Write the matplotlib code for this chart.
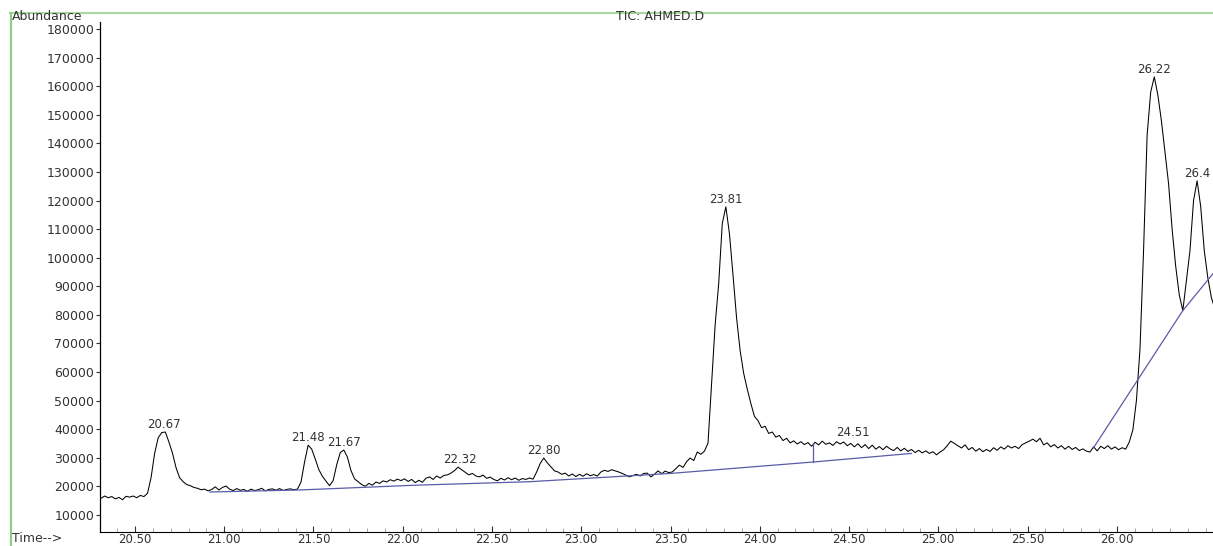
import numpy as np
from matplotlib import pyplot as plt
from matplotlib.lines import Line2D
from matplotlib.ticker import MultipleLocator

# TIC trace, one reading every 0.02 min starting at 20.29 min (abundance in thousands)
scan_start = 20.29
scan_step = 0.02
abundance_k = [
    16.3, 15.8, 16.6, 16.0, 16.4, 15.6, 16.1, 15.3, 16.5, 16.2,
    16.6, 16.0, 16.8, 16.4, 17.5, 23.0, 31.5, 37.0, 38.8, 39.0,
    35.5, 31.6, 26.5, 23.0, 21.6, 20.6, 20.2, 19.6, 19.3, 18.8,
    19.0, 18.4, 18.9, 19.8, 18.7, 19.6, 20.1, 19.0, 18.5, 19.2,
    18.6, 18.9, 18.2, 19.0, 18.5, 18.8, 19.3, 18.4, 18.9, 19.1,
    18.6, 19.2, 18.5, 18.9, 19.1, 18.8, 19.0, 21.5, 28.5, 34.4,
    33.0, 29.5, 25.8, 23.5, 21.8, 20.2, 22.0, 27.5, 31.8, 32.7,
    30.2, 25.5, 22.6, 21.6, 20.6, 20.0, 21.0, 20.4, 21.5, 21.0,
    21.9, 21.5, 22.3, 21.8, 22.5, 22.0, 22.6, 21.7, 22.4, 21.3,
    22.1, 21.4, 22.8, 23.3, 22.4, 23.6, 22.9, 23.8, 24.0, 24.6,
    25.5, 26.7, 25.8, 24.9, 24.0, 24.5, 23.6, 23.3, 23.9, 22.8,
    23.2, 22.4, 21.9, 22.8, 22.2, 23.0, 22.3, 22.9, 22.1, 22.7,
    22.4, 22.9, 22.5, 25.0, 28.0, 29.9, 28.2, 26.8, 25.4, 25.0,
    24.2, 24.6, 23.6, 24.3, 23.4, 24.2, 23.5, 24.4, 23.7, 24.1,
    23.6, 25.0, 25.6, 25.2, 25.8, 25.4, 25.0, 24.5, 23.9, 23.3,
    23.8, 24.2, 23.6, 24.5, 24.6, 23.3, 24.2, 25.4, 24.4, 25.3,
    24.8, 25.0, 26.2, 27.4, 26.6, 28.6, 29.9, 29.0, 32.0, 31.2,
    32.3, 35.1, 56.1, 76.5, 91.0, 112.0, 117.8, 108.5, 94.0, 79.0,
    67.5, 59.5, 54.0, 49.0, 44.5, 43.0, 40.5, 41.0, 38.5, 39.0,
    37.2, 37.8, 36.0, 36.8, 35.2, 35.9, 34.8, 35.6, 34.6, 35.3,
    34.0, 35.4, 34.5, 35.8, 34.7, 35.2, 34.3, 35.6, 34.8, 35.5,
    34.2, 35.0, 33.8, 34.9, 33.5, 34.6, 33.2, 34.4, 33.0, 33.9,
    32.8, 34.0, 33.1, 32.5, 33.6, 32.4, 33.3, 32.2, 32.9, 31.8,
    32.6, 31.7, 32.4, 31.5, 32.1, 31.0, 32.0, 32.8, 34.2, 35.8,
    35.0, 34.2, 33.4, 34.5, 32.8, 33.6, 32.3, 33.2, 32.1, 32.9,
    32.2, 33.5, 32.6, 33.8, 33.0, 34.2, 33.4, 34.0, 33.2, 34.6,
    35.2, 35.8, 36.5, 35.6, 36.8, 34.5, 35.2, 33.8, 34.6, 33.4,
    34.2, 33.0, 34.0, 32.9, 33.6, 32.5, 33.1, 32.3, 32.0, 33.8,
    32.4, 34.0, 33.2, 34.2, 33.0, 33.8, 32.8, 33.5, 33.0, 35.5,
    39.7, 50.0, 68.0, 102.5, 143.0, 158.0, 163.3, 157.0, 147.9, 137.0,
    126.0, 110.0, 97.0, 87.0, 81.5, 92.0, 102.5, 120.0, 126.9, 118.0,
    102.5, 93.0, 86.0, 82.0,
]

# integration baselines (blue)
base1_time = [20.92, 21.42, 22.08, 22.71, 23.50, 24.30, 24.85]
base1_k = [18.0, 18.7, 20.4, 21.6, 24.5, 28.5, 31.5]
base2_time = [25.87, 26.37, 26.54]
base2_k = [33.5, 81.5, 94.5]
split_time = 24.30
split_k = [28.5, 35.0]

# peak labels
peak_labels = ["20.67", "21.48", "21.67", "22.32", "22.80", "23.81", "24.51", "26.22", "26.4"]
peak_times = [20.66, 21.47, 21.67, 22.32, 22.79, 23.81, 24.52, 26.21, 26.45]
peak_k = [39.0, 34.4, 32.7, 26.7, 29.9, 117.8, 36.2, 163.3, 126.9]

y_ticks = np.arange(10000, 180001, 10000)
x_ticks = [20.50, 21.00, 21.50, 22.00, 22.50, 23.00, 23.50, 24.00, 24.50, 25.00, 25.50, 26.00]


def main():
    abundance = np.array(abundance_k) * 1000
    t = np.round(scan_start + scan_step * np.arange(len(abundance)), 2)

    fig = plt.figure(figsize=(12.13, 5.46), dpi=100)
    W, H = 1213, 546
    ax = fig.add_axes([100 / W, 1 - 532 / H, 1 - 100 / W, (532 - 22) / H])

    ax.plot(t, abundance, color='black', lw=0.75)
    ax.plot(base1_time, np.array(base1_k) * 1000, color='#5b5ba8', lw=0.9)
    ax.plot(base2_time, np.array(base2_k) * 1000, color='#5b5ba8', lw=0.9)
    ax.plot([split_time, split_time], np.array(split_k) * 1000, color='#5b5ba8', lw=0.9)

    for lbl, pt, pv in zip(peak_labels, peak_times, peak_k):
        ax.annotate(lbl, (pt, pv * 1000), xytext=(0, 0.5), textcoords='offset points',
                    ha='center', va='bottom', fontsize=8.5, color='#333333')

    ax.set_xlim(20.304, 26.539)
    ax.set_ylim(4000, 182500)

    ax.set_yticks(y_ticks)
    ax.set_yticklabels([str(v) for v in y_ticks])
    ax.set_xticks(x_ticks)
    ax.set_xticklabels(['%.2f' % v for v in x_ticks])
    ax.xaxis.set_minor_locator(MultipleLocator(0.1))

    ax.tick_params(axis='y', direction='out', length=3, width=0.8, pad=1,
                   labelsize=9, colors='#333333')
    ax.tick_params(axis='x', which='major', direction='in', length=4, width=0.8,
                   pad=1, labelsize=8.5, colors='#333333')
    ax.tick_params(axis='x', which='minor', direction='in', length=3, width=0.6,
                   color='#999999')

    for side in ['top', 'right']:
        ax.spines[side].set_visible(False)
    ax.spines['left'].set_linewidth(0.9)
    ax.spines['bottom'].set_linewidth(0.8)

    # light green frame around the printout
    fig.add_artist(Line2D([10 / W, 1], [1 - 13 / H, 1 - 13 / H], color='#a8d8a0', lw=1.5))
    fig.add_artist(Line2D([11 / W, 11 / W], [0, 1 - 13 / H], color='#8ccc86', lw=1.5))

    fig.text(12 / W, 1 - 17 / H, 'Abundance', fontsize=9, va='center', ha='left', color='#333333')
    fig.text(660 / W, 1 - 17 / H, 'TIC: AHMED.D', fontsize=9, va='center', ha='center', color='#333333')
    fig.text(12 / W, 1 - 538 / H, 'Time-->', fontsize=9, va='center', ha='left', color='#333333')

    plt.savefig('out.png', dpi=100)


if __name__ == "__main__":
    main()
